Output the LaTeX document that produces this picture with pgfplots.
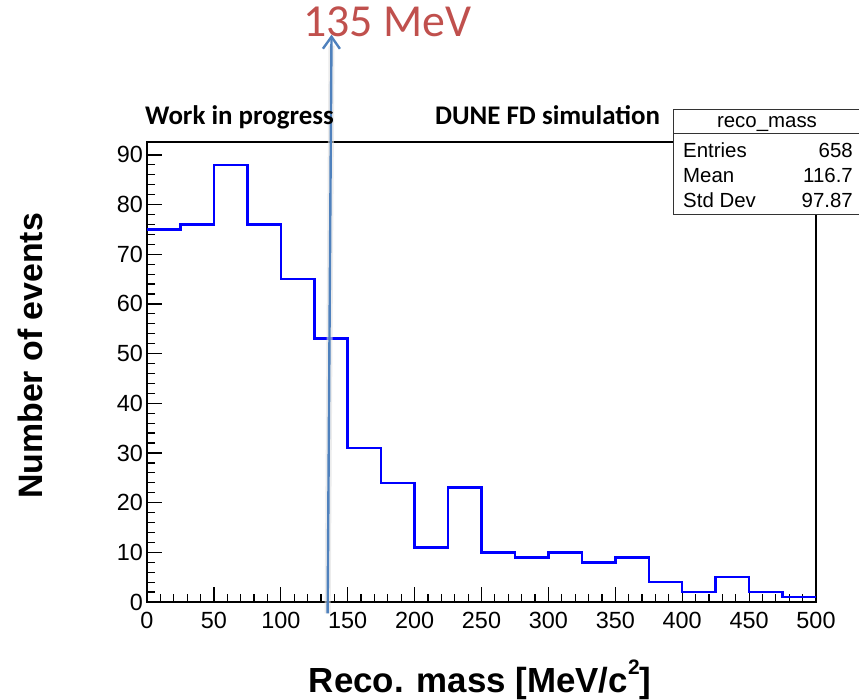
\documentclass[border=0pt]{standalone}
\usepackage{pgfplots}
\pgfplotsset{compat=1.18}
\usepackage{fontspec}
\setmainfont{Liberation Sans}
\newfontfamily\calibri{Carlito}
\usetikzlibrary{arrows.meta}

\definecolor{histblue}{RGB}{0,0,255}
\definecolor{arrowblue}{HTML}{4F81BD}
\definecolor{notered}{HTML}{C0504D}

\begin{document}
\begin{tikzpicture}
\path[use as bounding box] (0,0) rectangle (859bp,700bp);

\begin{axis}[
  at={(147bp,98bp)}, anchor=south west,
  width=669bp, height=460bp, scale only axis,
  xmin=0, xmax=500, ymin=0, ymax=92.6,
  clip=false,
  axis line style={line width=1.2bp, black},
  tick style={line width=1.2bp, black},
  tick align=inside, tick pos=left,
  major tick length=15bp, minor tick length=8bp,
  xtick={0,50,...,500}, minor x tick num=4,
  ytick={0,10,...,90}, minor y tick num=4,
  /pgf/number format/assume math mode=true,
  ticklabel style={font=\fontsize{23.5}{23.5}\selectfont},
  xticklabel style={inner sep=0pt, yshift=-10bp},
  yticklabel style={inner sep=0pt, xshift=-4bp},
  xlabel={\bfseries Reco. mass [MeV/c\raisebox{0.5em}{\fontsize{21}{21}\selectfont 2}]},
  ylabel={\bfseries Number of events},
  xlabel style={font=\fontsize{35}{35}\selectfont, at={(axis description cs:0.498,-0.1957)}, anchor=base},
  ylabel style={font=\fontsize{34}{34}\selectfont, at={(axis description cs:-0.1555,0.535)}, anchor=base, rotate=0},
]
% reco_mass histogram, 20 bins of 25 MeV/c^2
\addplot[const plot mark left, histblue, line width=2.5bp, line join=miter] coordinates {
  (0,75) (25,76) (50,88) (75,76) (100,65) (125,53) (150,31) (175,24)
  (200,11) (225,23) (250,10) (275,9) (300,10) (325,8) (350,9) (375,4)
  (400,2) (425,5) (450,2) (475,1) (500,1)
};
% pi0 mass marker
\draw[gray!25, line width=6bp, opacity=0.6] (axis cs:135,-2.3) -- (axis cs:137.9,112);
\draw[arrowblue, line width=2.4bp,
      -{Straight Barb[length=12bp, width=17bp, line width=2.4bp]}]
  (axis cs:135,-2.3) -- (axis cs:137.9,114.2);
\end{axis}

% statistics box
\fill[white] (673bp,485bp) rectangle (875bp,590bp);
\draw[line width=1bp, black!80] (673bp,485bp) rectangle (875bp,590bp);
\draw[line width=1bp, black!80] (673bp,566bp) -- (875bp,566bp);
\begin{scope}[every node/.style={font=\fontsize{20.5}{20.5}\selectfont, inner sep=0pt}]
  \node[anchor=base] at (767bp,572bp) {reco\_mass};
  \node[anchor=base west] at (683bp,542bp) {Entries};
  \node[anchor=base east] at (853bp,542bp) {658};
  \node[anchor=base west] at (683bp,517bp) {Mean};
  \node[anchor=base east] at (853bp,517bp) {116.7};
  \node[anchor=base west] at (683bp,492bp) {Std Dev};
  \node[anchor=base east] at (853bp,492bp) {97.87};
\end{scope}

% labels
\node[anchor=base west, inner sep=0pt, font=\calibri\bfseries\fontsize{27}{27}\selectfont] at (145bp,575bp) {Work in progress};
\node[anchor=base west, inner sep=0pt, font=\calibri\bfseries\fontsize{27}{27}\selectfont] at (435bp,575bp) {DUNE FD simulation};
\node[anchor=base west, inner sep=0pt, text=notered, font=\calibri\fontsize{46}{46}\selectfont] at (303bp,663bp) {135 MeV};
\end{tikzpicture}
\end{document}
